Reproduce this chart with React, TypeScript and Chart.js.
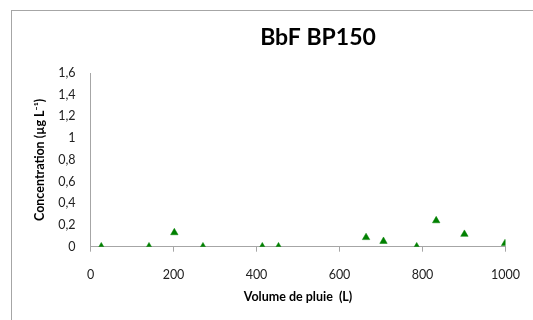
import React, { useEffect, useRef } from "react";
import { Chart, registerables } from "chart.js";

Chart.register(...registerables);

const titleText = "BbF BP150";
const xTitle = "Volume de pluie  (L)";
const yTitle = "Concentration (µg L⁻¹)";
const volumes = [26, 141, 202, 271, 414, 453, 664, 706, 786, 833, 901, 999];
const concentrations = [0, 0, 0.13, 0, 0, 0, 0.085, 0.05, 0, 0.24, 0.115, 0.03];
const xMin = 0, xMax = 1000, xStep = 200;
const yMin = 0, yMax = 1.6, yStep = 0.2;

const FONT = "Lato, 'Open Sans', sans-serif";
const AXIS = "#a6a6a6";

// Title centred on the whole chart object (as in the spreadsheet export), not on the plot area.
const chartTitlePlugin = {
  id: "chartTitle",
  afterDraw(chart: any) {
    const ctx = chart.ctx;
    ctx.save();
    ctx.font = `bold 23px ${FONT}`;
    ctx.fillStyle = "#000";
    ctx.textAlign = "center";
    ctx.textBaseline = "middle";
    ctx.fillText(titleText, chart.width / 2, 27);
    ctx.restore();
  },
};

export default function App() {
  const ref = useRef<HTMLCanvasElement | null>(null);
  useEffect(() => {
    if (!ref.current) return;
    const chart = new Chart(ref.current, {
      type: "scatter",
      data: {
        datasets: [
          {
            data: volumes.map((v, i) => ({ x: v, y: concentrations[i] })),
            pointStyle: "triangle",
            pointRadius: 4.3,
            pointHoverRadius: 4.3,
            backgroundColor: "#008000",
            borderColor: "#008000",
            borderWidth: 0.5,
          },
        ],
      },
      plugins: [chartTitlePlugin],
      options: {
        animation: false,
        responsive: false,
        maintainAspectRatio: false,
        layout: { padding: { left: 0, right: 118.5, top: 62, bottom: 0 } },
        plugins: {
          legend: { display: false },
          tooltip: { enabled: false },
          title: { display: false },
        },
        scales: {
          x: {
            type: "linear",
            min: xMin,
            max: xMax,
            ticks: {
              stepSize: xStep,
              color: "#222",
              font: { family: FONT, size: 12.5 },
              padding: 15.5,
              maxRotation: 0,
              callback: (v: any) => String(v),
            },
            grid: { display: true, drawOnChartArea: false, drawTicks: true, tickLength: 5, color: AXIS },
            border: { display: true, color: AXIS, width: 1 },
            title: {
              display: true,
              text: xTitle,
              color: "#000",
              font: { family: FONT, size: 12.5, weight: "bold" },
              padding: { top: 16, bottom: 16 },
            },
            afterFit: (s: any) => {
              s.height = 73.3;
            },
          },
          y: {
            type: "linear",
            min: yMin,
            max: yMax,
            ticks: {
              stepSize: yStep,
              color: "#222",
              font: { family: FONT, size: 12.5 },
              padding: 15,
              callback: (v: any) => String(Number(Number(v).toFixed(1))).replace(".", ","),
            },
            grid: { display: false, drawTicks: false },
            border: { display: true, color: AXIS, width: 1 },
            title: {
              display: true,
              text: yTitle,
              color: "#000",
              font: { family: FONT, size: 12.5, weight: "bold" },
              padding: { top: 20, bottom: 4 },
            },
            afterFit: (s: any) => {
              s.width = 78.5;
            },
          },
        },
      },
    });
    return () => chart.destroy();
  }, []);

  return (
    <div
      style={{
        position: "fixed",
        left: 0,
        top: 0,
        width: 533,
        height: 320,
        overflow: "hidden",
        background: "#fff",
      }}
    >
      <div
        style={{
          position: "absolute",
          left: 11,
          top: 10,
          width: 640,
          height: 340,
          borderTop: `1px solid ${AXIS}`,
          borderLeft: `1px solid ${AXIS}`,
          boxSizing: "border-box",
        }}
      >
        <canvas ref={ref} width={612} height={309} style={{ display: "block", width: 612, height: 309 }} />
      </div>
    </div>
  );
}
